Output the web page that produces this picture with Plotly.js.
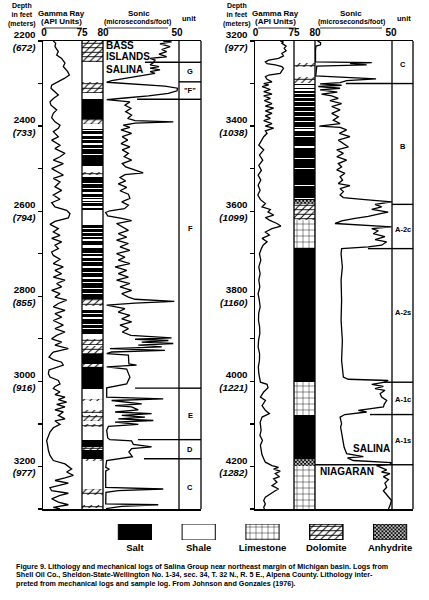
<!DOCTYPE html>
<html><head><meta charset="utf-8">
<script src="https://cdn.plot.ly/plotly-3.0.1.min.js"></script>
<style>html,body{margin:0;padding:0;background:#fff}#chart{width:429px;height:600px}</style>
</head><body><div id="chart"></div>
<script>
// ================= DATA =================
const leftDepthTicks = [2200, 2400, 2600, 2800, 3000, 3200];
const leftDepthMeters = [672, 733, 794, 855, 916, 977];
const rightDepthTicks = [3200, 3400, 3600, 3800, 4000, 4200];
const rightDepthMeters = [977, 1038, 1099, 1160, 1221, 1282];
const leftDepthRange = [3300, 2200];
const rightDepthRange = [4300, 3200];

// Gamma ray [depth ft, API units]
const leftGammaRay = [[2200,18.4],[2205,23],[2213,21.7],[2225,28.3],[2233,25],[2241,34.8],[2252,41.4],[2260,38.1],[2272,46.7],[2280,50],[2288,40.1],[2296,28.3],[2304,15.1],[2311,13.8],[2319,21.7],[2327,28.3],[2335,18.4],[2343,11.8],[2351,13.8],[2362,25],[2370,18.4],[2380,15.1],[2390,21.7],[2398,31.6],[2405,28.3],[2413,18.4],[2425,28.3],[2433,15.1],[2445,31.6],[2453,21.7],[2464,41.4],[2472,31.6],[2480,18.4],[2488,38.1],[2500,15.1],[2507,25],[2515,38.1],[2523,18.4],[2531,31.6],[2543,21.7],[2551,34.8],[2562,18.4],
[2572,31.6],[2580,15.1],[2590,21.7],[2598,44.7],[2606,51.3],[2616,48],[2624,21.7],[2631,11.8],[2641,28.3],[2649,18.4],[2657,31.6],[2664,15.1],[2672,34.8],[2680,21.7],[2688,28.3],[2696,15.1],[2704,18.4],[2713,31.6],[2723,18.4],[2731,38.1],[2739,21.7],[2747,34.8],[2755,18.4],[2762,41.4],[2770,25],[2778,34.8],[2786,15.1],[2794,31.6],[2802,21.7],[2809,44.7],[2817,28.3],[2825,18.4],[2833,41.4],[2841,21.7],[2849,34.8],[2857,18.4],[2868,38.1],[2876,21.7],[2884,41.4],[2892,25],[2900,15.1],[2908,34.8],[2915,21.7],[2923,48],[2931,18.4],
[2935,15.1],[2943,9.9],[2949,18.4],[2955,34.8],[2962,38.1],[2968,21.7],[2973,9.9],[2982,8.6],[2990,11.8],[2998,28.3],[3006,31.6],[3012,21.7],[3017,18.4],[3025,31.6],[3031,21.7],[3037,41.4],[3043,28.3],[3049,44.7],[3054,25],[3060,41.4],[3067,21.7],[3072,38.1],[3080,28.3],[3088,41.4],[3093,21.7],[3101,31.6],[3109,18.4],[3119,11.8],[3129,8.6],[3139,5.3],[3151,7.2],[3162,8.6],[3174,11.8],[3186,18.4],[3194,41.4],[3200,48],[3206,54.6],[3213,44.7],[3221,57.9],[3227,41.4],[3233,21.7],[3239,48],[3245,28.3],[3250,11.8],[3257,15.1],[3263,48],[3268,31.6],[3276,15.1],[3284,28.3],[3290,48],[3296,18.4],[3300,31.6]];

const rightGammaRay = [[3200,48.1],[3202,54.5],[3205,51.3],[3212,59.6],[3217,55.8],[3223,59.6],[3229,51.3],[3235,54.5],[3241,44.9],[3245,25.7],[3249,19.2],[3253,22.5],[3256,38.5],[3260,51.3],[3264,54.5],[3270,51.3],[3276,48.1],[3280,25.7],[3284,19.2],[3290,22.5],[3296,32.1],[3300,16],[3303,25.7],[3307,12.8],[3314,28.9],[3319,16],[3325,32.1],[3329,16],[3335,28.9],[3340,17.3],[3347,32.1],[3353,19.2],[3358,35.3],[3364,19.2],[3370,32.1],[3376,19.2],[3382,28.9],[3387,16],[3394,32.1],[3400,19.2],[3405,35.3],[3411,19.2],[3417,22.5],[3425,16],
[3433,12.8],[3445,6.4],[3456,16],[3468,7.7],[3480,14.1],[3492,6.4],[3504,11.5],[3515,5.1],[3527,10.3],[3539,5.1],[3551,9],[3562,4.5],[3573,9.6],[3582,19.2],[3590,12.8],[3596,28.9],[3602,24.4],[3609,35.3],[3615,19.2],[3621,27],[3629,41.7],[3635,49.4],[3641,32.1],[3649,19.2],[3656,27],[3664,12.8],[3672,22.5],[3680,14.7],[3688,11.5],[3700,7.7],[3715,10.3],[3731,6.4],[3747,9],[3762,6.4],[3778,8.4],
[3794,5.1],[3810,7.5],[3825,9],[3840,6.2],[3857,5.8],[3872,8],[3888,8.4],[3903,6],[3919,5.1],[3935,7.9],[3951,7.7],[3966,5.5],[3982,6.4],[4002,9.6],[4007,22.5],[4015,24.4],[4025,16],[4037,9.6],[4045,19.2],[4057,12.8],[4068,19.2],[4076,27],[4084,12.8],[4096,9],[4108,10.3],
[4115,10.9],[4127,8.6],[4139,13.5],[4150,9.5],[4162,10.9],[4172,12.5],[4182,16],[4190,19.2],[4198,32.1],[4202,44.9],[4206,35.3],[4211,48.1],[4217,38.5],[4224,46.8],[4229,35.3],[4237,41.7],[4245,32.1],[4253,44.9],[4257,38.5],[4264,28.9],[4272,19.2],[4280,16],[4288,19.2],[4296,16],[4300,17.3]];

// Sonic [depth ft, microseconds/foot]
const leftSonic = [[2200,55.6],[2202,52.2],[2207,56.9],[2213,52.8],[2220,56.2],[2225,54.2],[2231,57.3],[2237,54.2],[2241,60.9],[2245,58.9],[2251,59.6],[2256,60.9],[2260,57.3],[2264,60.9],[2268,56.9],[2272,60.9],[2276,58.9],[2280,63],[2284,67],[2289,71.8],[2293,76.5],[2297,78.5],[2301,68.4],[2306,54.9],[2311,49.8],[2317,50],[2323,53.5],[2329,61.6],[2334,71.1],[2338,78.5],[2343,69.1],[2351,71.1],[2358,68.7],[2366,70.8],[2374,68.4],[2382,70],[2387,67],[2390,51.5],[2393,67],[2398,71.8],[2403,69.1],[2409,72.7],[2417,68.4],[2425,72.2],[2433,70],[2441,72.7],[2449,69.1],[2456,72.2],[2464,69.7],[2472,71.4],[2480,68.4],[2488,72.2],[2496,70.8],[2503,67],[2510,63.7],[2514,71.1],[2521,73.1],[2529,70.8],[2536,73.8],[2544,70.4],[2552,73.1],[2560,69.7],
[2570,69.1],[2578,72.4],[2586,69.7],[2594,71.3],[2599,77.2],[2603,78.9],[2611,78.1],[2617,72.4],[2622,68.4],[2629,74.5],[2637,72.2],[2645,69.7],[2653,73.8],[2661,70.4],[2668,74.5],[2676,69.7],[2684,73.1],[2692,69.1],[2700,74.5],[2708,71.1],[2715,73.8],[2723,69.1],[2731,75.1],[2739,70.4],[2747,73.8],[2755,69.7],[2762,74.5],[2770,69.1],[2778,73.1],[2786,68.4],[2794,72.4],[2802,69.7],[2807,67],[2812,51.1],[2816,67],[2821,78.5],[2829,71.1],[2837,73.8],[2845,69.1],[2853,72.4],[2860,68.4],[2868,73.1],[2876,69.7],[2884,72.2],[2892,68.7],[2898,52.2],[2901,67],[2904,53.5],[2908,64.3],[2911,51.5],[2915,65.7],[2919,56.2],[2923,77.2],[2927,54.9],[2931,76.5],
[2935,78.5],[2938,69.7],[2959,69.5],[2962,66.4],[2966,78.5],[2971,70.4],[2990,69.1],[3006,70.4],[3010,74.5],[3015,78.5],[3037,78.5],[3041,55.6],[3045,76.5],[3053,64.3],[3057,75.1],[3060,68.4],[3067,65.7],[3072,75.1],[3076,60.3],[3080,72.4],[3084,63],[3088,73.8],[3092,59.6],[3096,75.1],[3101,65.7],[3106,77.8],[3115,78.5],[3133,78.1],[3137,77.2],[3140,68.4],[3148,67.7],[3154,60.3],[3158,68.4],[3166,69.5],[3177,68.1],[3181,72.2],[3186,78.5],[3202,78.9],[3206,77.6],[3211,78.9],[3249,78.9],[3253,55.6],[3257,73.8],[3261,78.8],[3288,78.9],[3290,57.6],[3294,72.4],[3299,78.8]];

const rightSonic = [[3200,79],[3204,77.8],[3209,77.8],[3212,79.6],[3221,79.8],[3249,79.8],[3251,57.6],[3253,66.2],[3256,59.6],[3259,79.3],[3282,79.7],[3285,66.2],[3289,55.9],[3293,67.5],[3298,70.1],[3301,78],[3304,69.5],[3307,78.7],[3311,70.1],[3315,78],[3320,71.2],[3325,77.4],[3329,73.4],[3335,70.8],[3340,74.1],[3347,69.5],[3354,73.4],[3362,70.1],[3370,73.4],[3378,70.8],[3386,72.8],[3394,70.1],[3400,78.3],[3403,70.1],[3409,67.5],[3417,70.4],[3425,66.2],[3433,70.8],[3441,68.8],[3449,66.8],[3456,71.4],[3464,68.8],[3472,71.4],[3480,67.5],[3488,70.8],[3496,69.5],[3503,71.4],[3511,68.2],[3519,70.1],[3527,69.1],[3535,70.8],[3540,66.2],[3547,70.1],[3554,68.8],[3562,70.1],[3568,68.8],
[3573,60.3],[3578,49.7],[3584,56.3],[3590,53.7],[3596,57.6],[3602,51.1],[3605,53.7],[3612,59],[3617,64.2],[3623,69.5],[3629,72.1],[3633,61.6],[3637,49.8],[3641,57.6],[3646,55],[3653,57],[3660,52.4],[3667,56.3],[3672,51.7],[3680,53.7],[3684,59],[3688,69.5],[3700,69.7],[3731,69.2],[3762,69.7],[3810,69.5],[3857,69.7],[3904,69.2],[3951,69.5],[3990,68.8],[3995,66.9],[3998,51.1],[4002,52.4],[4007,57.6],[4012,53],[4017,56.3],[4021,52.4],[4029,54.3],[4037,53.7],[4045,51.7],[4053,52.6],[4060,53],[4064,57.6],[4068,62.9],[4072,59.6],[4075,64.2],[4078,68.2],[4084,70.1],[4100,69.5],[4107,69.9],[4131,69.1],[4155,68.5],[4170,67.5],[4177,60.9],[4180,67.2],[4186,64.9],[4191,49.8],[4195,50.4],[4198,55.7],[4203,53.3],[4208,51.7],[4213,53.7],[4217,50.4],[4224,53],[4231,51],[4239,52.4],[4249,51.7],[4257,53],[4268,51.4],[4280,49.8],[4292,50.4],[4300,51]];

// Lithology intervals [top ft, base ft, rock]
const leftLithology = [[2200,2249,'dolomite'],[2249,2296,'shale'],[2296,2323,'dolomite'],[2323,2337,'shale'],[2337,2384,'salt'],[2384,2394,'dolomite'],[2394,2408,'shale'],[2408,2494,'salt'],[2494,2508,'shale'],[2508,2515,'dolomite'],[2515,2520,'shale'],[2520,2598,'salt'],[2598,2633,'shale'],[2633,2806,'salt'],[2806,2823,'dolomite'],[2823,2833,'shale'],[2833,2888,'salt'],[2888,2900,'shale'],[2900,2935,'dolomite'],[2935,2960,'salt'],[2960,2966,'dolomite'],[2966,3017,'salt'],[3017,3041,'shale'],[3041,3045,'dolomite'],[3045,3067,'shale'],[3067,3075,'dolomite'],[3075,3078,'shale'],[3078,3093,'dolomite'],[3093,3100,'shale'],[3100,3108,'dolomite'],[3108,3137,'shale'],[3137,3155,'salt'],[3155,3161,'dolomite'],[3161,3162,'shale'],[3162,3182,'salt'],[3182,3186,'dolomite'],[3186,3253,'shale'],[3253,3266,'dolomite'],[3266,3290,'shale'],[3290,3297,'dolomite'],[3297,3300,'shale']];
const rightLithology = [[3200,3251,'shale'],[3251,3260,'dolomite'],[3260,3285,'shale'],[3285,3298,'dolomite'],[3298,3573,'salt'],[3573,3582,'anhydrite'],[3582,3621,'dolomite'],[3621,3686,'limestone'],[3686,4002,'salt'],[4002,4078,'limestone'],[4078,4182,'salt'],[4182,4198,'anhydrite'],[4198,4300,'limestone']];
// thin shale beds inside salt (depth ft)
const leftShaleBeds = [2411,2421,2431,2442,2452,2466,2535,2547,2557,2567,2574,2580,2590,2641,2650,2660,2668,2682,2686,2700,2708,2719,2731,2744,2757,2768,2782,2794,2841,2851,2867,2876,2915];
const rightShaleBeds = [3300,3304,3308,3315,3323,3332,3343,3354,3366,3378,3390,3403,3409,3425,3449,3476,3500,3540,3570];
const bedThickness = 3;

// Units
const leftUnitTops = [2250, 2296, 2337, 3016, 3137, 3182];
const leftUnitLineFrom = [63, 50, 66.2, 67, 65.8, 63.4];
const leftUnitNames = ['G', '"F"', 'F', 'E', 'D', 'C'];
const leftUnitLabelDepth = [2272, 2316, 2641, 3080, 3161, 3249];
const rightUnitTops = [3300, 3584, 3688, 4002, 4078, 4196];
const rightUnitLineFrom = [67.8, 50, 59.1, 53, 58.3, 80];
const rightUnitNames = ['C', 'B', 'A-2c', 'A-2s', 'A-1c', 'A-1s'];
const rightUnitLabelDepth = [3256, 3447, 3643, 3837, 4043, 4139];

const formationLabels = [
  {text:'BASS', panel:'L', depth:2211, sonic:79.6, anchor:'left'},
  {text:'ISLANDS', panel:'L', depth:2236, sonic:79.6, anchor:'left'},
  {text:'SALINA', panel:'L', depth:2267, sonic:79.6, anchor:'left'},
  {text:'SALINA', panel:'R', depth:4158, sonic:49.7, anchor:'right'},
  {text:'NIAGARAN', panel:'R', depth:4212, sonic:78.9, anchor:'left'}
];

const legendNames = ['Salt', 'Shale', 'Limestone', 'Dolomite', 'Anhydrite'];
const legendRock = ['salt', 'shale', 'limestone', 'dolomite', 'anhydrite'];

const caption = [
  'Figure 9. Lithology and mechanical logs of Salina Group near northeast margin of Michigan basin. Logs from',
  'Shell Oil Co., Sheldon-State-Wellington No. 1-34, sec. 34, T. 32 N., R. 5 E., Alpena County. Lithology inter-',
  'preted from mechanical logs and sample log. From Johnson and Gonzales (1976).'
];

// ================= LAYOUT HELPERS =================
const W = 429, H = 600;
const px = x => x / W;
const py = y => 1 - y / H;
const F = 'Liberation Sans, Arial, sans-serif';
const yDom = [py(509), py(41)];

const rockStyle = {
  salt: {color: 'black'},
  shale: {color: 'white'},
  limestone: {color: 'white', pattern: {shape: '+', size: 6, solidity: 0.14, fgcolor: 'black', bgcolor: 'white', fillmode: 'replace'}},
  dolomite: {color: 'white', pattern: {shape: '/', size: 5, solidity: 0.2, fgcolor: 'black', bgcolor: 'white', fillmode: 'replace'}},
  anhydrite: {color: 'white', pattern: {shape: 'x', size: 2.6, solidity: 0.6, fgcolor: 'black', bgcolor: 'white', fillmode: 'replace'}}
};
const dolomiteOverlay = {color: 'rgba(0,0,0,0)', pattern: {shape: '-', size: 4.5, solidity: 0.2, fgcolor: 'black', bgcolor: 'rgba(0,0,0,0)', fillmode: 'replace'}};

const traces = [];

function addLith(intervals, beds, xa, ya) {
  ['shale', 'salt', 'limestone', 'dolomite', 'anhydrite'].forEach(t => {
    const sel = intervals.filter(r => r[2] === t);
    if (!sel.length) return;
    const base = {type: 'bar', orientation: 'h', xaxis: xa, yaxis: ya,
      y: sel.map(r => (r[0] + r[1]) / 2), x: sel.map(() => 1), width: sel.map(r => r[1] - r[0]),
      hoverinfo: 'skip', showlegend: false};
    traces.push(Object.assign({}, base, {marker: Object.assign({line: {width: 0}}, rockStyle[t])}));
    if (t === 'dolomite') traces.push(Object.assign({}, base, {marker: Object.assign({line: {width: 0}}, dolomiteOverlay)}));
  });
  traces.push({type: 'bar', orientation: 'h', xaxis: xa, yaxis: ya,
    y: beds, x: beds.map(() => 1), width: beds.map(() => bedThickness),
    marker: {color: 'white', line: {width: 0}}, hoverinfo: 'skip', showlegend: false});
}

function addCurve(pairs, xa, ya) {
  traces.push({type: 'scatter', mode: 'lines', xaxis: xa, yaxis: ya,
    x: pairs.map(p => p[1]), y: pairs.map(p => p[0]),
    line: {color: 'black', width: 1.3}, hoverinfo: 'skip', showlegend: false});
}

function addBoundaries(tops, from, sonicEnd, xs, xu, ya) {
  const sx = [], sy = [], ux = [], uy = [];
  tops.forEach((d, i) => {
    if (from[i] > sonicEnd + 0.9) { sx.push(from[i], sonicEnd, null); sy.push(d, d, null); }
    ux.push(0, 1, null); uy.push(d, d, null);
  });
  traces.push({type: 'scatter', mode: 'lines', xaxis: xs, yaxis: ya, x: sx, y: sy, line: {color: 'black', width: 1.4}, hoverinfo: 'skip', showlegend: false});
  traces.push({type: 'scatter', mode: 'lines', xaxis: xu, yaxis: ya, x: ux, y: uy, line: {color: 'black', width: 1.4}, hoverinfo: 'skip', showlegend: false});
}

const leftSonicRange = [80, 49.19];
const rightSonicRange = [80, 49.6];

// Left panel: x (GR), x2 (lith), x3 (sonic), x4 (unit) on y
addLith(leftLithology, leftShaleBeds, 'x2', 'y');
addCurve(leftGammaRay, 'x', 'y');
addCurve(leftSonic, 'x3', 'y');
addBoundaries(leftUnitTops, leftUnitLineFrom, leftSonicRange[1], 'x3', 'x4', 'y');
// Right panel: x5..x8 on y2
addLith(rightLithology, rightShaleBeds, 'x6', 'y2');
addCurve(rightGammaRay, 'x5', 'y2');
addCurve(rightSonic, 'x7', 'y2');
addBoundaries(rightUnitTops, rightUnitLineFrom, rightSonicRange[1], 'x7', 'x8', 'y2');

// Legend boxes: one bar per rock type
legendRock.forEach((r, i) => {
  traces.push({type: 'bar', xaxis: 'x9', yaxis: 'y3', x: [legendNames[i]], y: [1], width: 0.52,
    marker: Object.assign({}, rockStyle[r], {line: {width: 1, color: 'black'}}), hoverinfo: 'skip', showlegend: false});
  if (r === 'dolomite') traces.push({type: 'bar', xaxis: 'x9', yaxis: 'y3', x: [legendNames[i]], y: [1], width: 0.52,
    marker: Object.assign({}, dolomiteOverlay, {line: {width: 1, color: 'black'}}), hoverinfo: 'skip', showlegend: false});
});

function depthAxis(range, ticks, meters, anchor) {
  const vals = [], text = [];
  ticks.forEach((t, i) => {
    vals.push(t); text.push('<b>' + t + '</b><br><b><i>(' + meters[i] + ')</i></b>');
    vals.push(t + 100); text.push('');
  });
  return {domain: yDom, range: range, anchor: anchor, tickmode: 'array', tickvals: vals, ticktext: text,
    ticks: 'outside', ticklen: 4, tickwidth: 1.2, tickcolor: 'black', showline: true, linecolor: 'black', linewidth: 1.5,
    showgrid: false, zeroline: false, tickfont: {family: F, size: 9.8, color: 'black'}, fixedrange: true};
}
function scaleAxis(dom, range, vals, anchor) {
  return {domain: [px(dom[0]), px(dom[1])], range: range, anchor: anchor, side: 'top', tickmode: 'array',
    tickvals: vals, ticktext: vals.map(v => '<b>' + v + '</b>'), ticks: '', showline: true, mirror: true,
    linecolor: 'black', linewidth: 1.5, showgrid: false, zeroline: false,
    tickfont: {family: F, size: 10, color: 'black'}, fixedrange: true};
}
function plainAxis(dom, anchor) {
  return {domain: [px(dom[0]), px(dom[1])], range: [0, 1], anchor: anchor, showticklabels: false, ticks: '',
    showline: true, mirror: true, linecolor: 'black', linewidth: 1.5, showgrid: false, zeroline: false, fixedrange: true};
}

const annotations = [];
function note(text, x, y, size, anchor) {
  annotations.push({text: text, xref: 'paper', yref: 'paper', x: px(x), y: py(y), xanchor: anchor || 'center', yanchor: 'middle',
    showarrow: false, font: {family: F, size: size, color: 'black'}});
}
// headers
[0, 215].forEach((dx, p) => {
  note('<b>Depth<br>in feet<br>(meters)</b>', 22 + dx, 14.5, 7);
  note('<b>Gamma Ray</b>', 62 + dx - p * 2, 13, 8);
  note('<b>(API Units)</b>', 62 + dx - p * 2, 22, 8);
  note('<b>Sonic</b>', 139 + dx - p * 3, 13, 8);
  note('<b>(microseconds/foot)</b>', 137 + dx - p, 22, 7);
  note('<b>unit</b>', 189 + dx, 19, 7.5);
});
// unit labels
leftUnitNames.forEach((n, i) => annotations.push({text: '<b>' + n + '</b>', xref: 'x4', yref: 'y', x: 0.5, y: leftUnitLabelDepth[i],
  showarrow: false, font: {family: F, size: 7.5, color: 'black'}}));
rightUnitNames.forEach((n, i) => annotations.push({text: '<b>' + n + '</b>', xref: 'x8', yref: 'y2', x: 0.5, y: rightUnitLabelDepth[i],
  showarrow: false, font: {family: F, size: 7.5, color: 'black'}}));
formationLabels.forEach(f => annotations.push({text: '<b>' + f.text + '</b>', xref: f.panel === 'L' ? 'x3' : 'x7', yref: f.panel === 'L' ? 'y' : 'y2',
  x: f.sonic, y: f.depth, xanchor: f.anchor, yanchor: 'middle', showarrow: false, font: {family: F, size: 10, color: 'black'}}));
// caption
caption.forEach((c, i) => note('<b>' + c + '</b>', 14, 566 + i * 8.5, 7.2, 'left'));

const shapes = [];
function vline(x) { shapes.push({type: 'line', xref: 'paper', yref: 'paper', x0: px(x), x1: px(x), y0: py(509), y1: py(41), line: {color: 'black', width: 1.3}}); }
[82, 103, 179, 201, 294, 315, 392, 413].forEach(vline);
function hline(x0, x1, y) { shapes.push({type: 'line', xref: 'paper', yref: 'paper', x0: px(x0), x1: px(x1), y0: py(y), y1: py(y), line: {color: 'black', width: 0.8}}); }
hline(44, 82, 28); hline(107, 168, 28); hline(258, 296, 28); hline(320, 382, 28);

const layout = {
  width: W, height: H, margin: {l: 0, r: 0, t: 0, b: 0}, paper_bgcolor: 'white', plot_bgcolor: 'rgba(0,0,0,0)',
  barmode: 'overlay', bargap: 0, showlegend: false, font: {family: F, color: 'black'},
  xaxis: scaleAxis([43, 82], [-1.97, 75], [0, 75], 'y'),
  xaxis2: plainAxis([82, 103], 'y'),
  xaxis3: scaleAxis([103, 179], leftSonicRange, [80, 50], 'y'),
  xaxis4: plainAxis([179, 201], 'y'),
  xaxis5: scaleAxis([255, 294], [-1, 75], [0, 75], 'y2'),
  xaxis6: plainAxis([294, 315], 'y2'),
  xaxis7: scaleAxis([315, 392], rightSonicRange, [80, 50], 'y2'),
  xaxis8: plainAxis([392, 413], 'y2'),
  xaxis9: {domain: [px(103), px(422)], anchor: 'y3', type: 'category', showline: false, ticks: '', showgrid: false, zeroline: false,
    tickmode: 'array', tickvals: legendNames, ticktext: legendNames.map(n => '<b>' + n + '</b>'),
    tickfont: {family: F, size: 9.5, color: 'black'}, fixedrange: true},
  yaxis: depthAxis(leftDepthRange, leftDepthTicks, leftDepthMeters, 'x'),
  yaxis2: depthAxis(rightDepthRange, rightDepthTicks, rightDepthMeters, 'x5'),
  yaxis3: {domain: [py(540), py(524)], range: [0, 1], anchor: 'x9', visible: false, fixedrange: true},
  annotations: annotations, shapes: shapes
};

Plotly.newPlot('chart', traces, layout, {staticPlot: true, displayModeBar: false});
</script></body></html>
